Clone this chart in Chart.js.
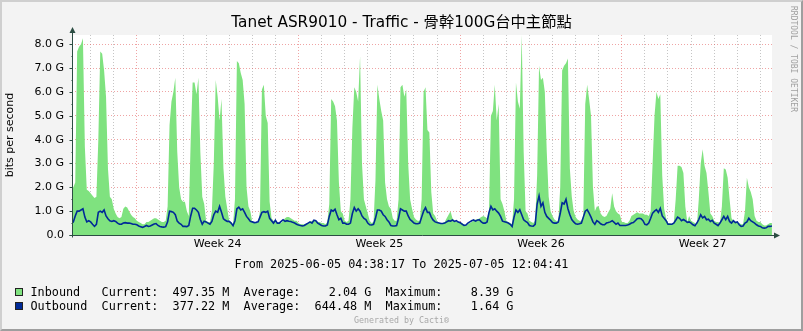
<!DOCTYPE html>
<html><head><meta charset="utf-8">
<script src="https://cdn.jsdelivr.net/npm/chart.js@4/dist/chart.umd.min.js"></script>
<style>
html,body{margin:0;padding:0;background:#F3F3F3;}
#wrap{position:relative;width:803px;height:331px;overflow:hidden;background:#F3F3F3;}
#c{position:absolute;left:0;top:0;}
.frame{position:absolute;left:0;top:0;width:803px;height:331px;box-sizing:border-box;border-top:2px solid #CFCFCF;border-left:2px solid #CFCFCF;border-right:2px solid #9E9E9E;border-bottom:2px solid #9E9E9E;pointer-events:none;}
.mono{position:absolute;font-family:'DejaVu Sans Mono',monospace;font-size:11.8px;line-height:14px;white-space:pre;color:#000;}
.sw{position:absolute;width:6px;height:6px;border:1px solid #222;}
#from{left:0;width:803px;text-align:center;top:257px;}
#gen{position:absolute;left:0;width:803px;text-align:center;top:315px;font-family:'DejaVu Sans Mono',monospace;font-size:8.3px;line-height:10px;color:#A8A8A8;white-space:pre;}
#rrd{position:absolute;left:788px;top:6px;writing-mode:vertical-rl;font-family:'DejaVu Sans Mono',monospace;font-size:8px;line-height:10px;color:#A0A0A0;white-space:pre;}
</style></head>
<body>
<div id="wrap">
<canvas id="c" width="803" height="331"></canvas>
<div id="rrd">RRDTOOL / TOBI OETIKER</div>
<div class="mono" id="from"></div>
<div id="legend"></div>
<div id="gen">Generated by Cacti®</div>
<div class="frame"></div>
</div>
<script>
// ---- data (G bits per second), 2-hour samples starting 2025-06-05 04:00 ----
const chartTitle = 'Tanet ASR9010 - Traffic - 骨幹100G台中主節點';
const yAxisTitle = 'bits per second';
const startHour = 4;      // hours after 2025-06-05 00:00 of first sample
const stepHours = 2;
const rangeStartHour = 4.6381;   // 04:38:17
const rangeEndHour = 732.078;    // 2025-07-05 12:04:41
const yMax = 8.39;

const inbound = [
  1.9, 2.0, 2.2, 7.7, 7.9, 8.0, 8.25, 3.7, 1.9, 1.85,
  1.75, 1.65, 1.55, 1.6, 4.0, 7.7, 7.6, 6.9, 5.8, 2.8, 1.6, 1.5,
  1.1, 0.9, 0.75, 0.7, 0.75, 1.1, 1.2, 1.15, 1.0, 0.85, 0.75, 0.7,
  0.6, 0.55, 0.5, 0.45, 0.45, 0.55, 0.55, 0.6, 0.65, 0.7, 0.7, 0.65,
  0.6, 0.55, 0.55, 0.6, 1.2, 4.6, 5.6, 6.0, 6.6, 3.5, 2.0, 1.5,
  1.4, 1.4, 1.0, 0.8, 4.0, 6.4, 6.4, 5.9, 6.6, 3.5, 1.6, 1.3,
  0.6, 0.55, 0.55, 1.0, 3.0, 6.5, 5.8, 4.8, 5.7, 2.8, 1.6, 1.1,
  0.6, 0.55, 0.45, 1.5, 7.3, 7.2, 6.8, 6.5, 5.5, 2.0, 1.2, 1.0,
  0.55, 0.5, 0.5, 0.5, 1.0, 6.1, 6.3, 5.0, 4.7, 1.4, 0.7, 0.6,
  0.55, 0.55, 0.5, 0.5, 0.6, 0.7, 0.75, 0.75, 0.7, 0.65, 0.6, 0.6,
  0.5, 0.45, 0.45, 0.45, 0.45, 0.5, 0.55, 0.6, 0.6, 0.6, 0.55, 0.55,
  0.5, 0.5, 0.45, 0.55, 1.3, 5.7, 5.6, 5.4, 4.8, 2.2, 1.0, 0.9,
  0.6, 0.55, 0.6, 1.5, 4.5, 6.2, 6.0, 5.6, 7.5, 3.0, 1.5, 1.2,
  0.9, 0.6, 0.5, 0.55, 2.3, 6.3, 5.7, 5.2, 4.8, 2.2, 1.5, 1.2,
  1.1, 0.7, 0.6, 0.6, 1.5, 6.2, 6.3, 5.8, 6.1, 3.0, 1.5, 1.1,
  0.75, 0.65, 0.6, 0.6, 1.5, 6.0, 6.2, 4.4, 4.3, 1.8, 0.9, 0.8,
  0.6, 0.5, 0.5, 0.5, 0.55, 0.7, 0.85, 1.0, 0.7, 0.6, 0.55, 0.55,
  0.5, 0.5, 0.45, 0.4, 0.45, 0.5, 0.55, 0.6, 0.65, 0.65, 0.7, 0.75,
  0.8, 0.75, 0.7, 1.0, 5.0, 5.2, 6.3, 4.8, 5.5, 1.5, 1.3, 1.0,
  0.6, 0.55, 0.5, 0.45, 1.5, 6.4, 5.6, 5.3, 8.39, 3.5, 1.0, 0.9,
  0.6, 0.55, 0.5, 0.6, 2.5, 7.1, 6.5, 6.6, 6.0, 3.5, 1.6, 1.0,
  0.8, 0.65, 0.6, 0.55, 2.0, 6.9, 7.1, 7.2, 7.4, 2.8, 1.6, 1.0,
  0.75, 0.65, 0.6, 0.6, 0.8, 5.5, 6.3, 5.7, 5.0, 2.0, 1.0, 1.2,
  1.2, 0.9, 0.8, 0.75, 0.8, 0.95, 1.1, 1.75, 1.2, 1.0, 0.9, 0.85,
  0.55, 0.55, 0.5, 0.5, 0.6, 0.8, 0.85, 0.9, 0.95, 0.9, 0.9, 0.9,
  0.85, 0.85, 0.8, 1.0, 3.0, 5.0, 6.0, 5.7, 5.9, 2.5, 1.1, 0.7,
  0.5, 0.5, 0.45, 0.5, 1.5, 2.9, 2.9, 2.85, 2.6, 1.2, 0.55, 0.8,
  0.6, 0.55, 0.5, 0.4, 1.5, 3.0, 3.6, 2.9, 2.6, 1.8, 0.9, 0.8,
  0.6, 0.55, 0.55, 0.5, 1.2, 2.8, 2.75, 2.4, 1.5, 0.7, 0.6, 0.55,
  0.5, 0.5, 0.45, 0.45, 1.0, 2.4, 2.0, 1.8, 1.5, 0.8, 0.6, 0.55,
  0.55, 0.45, 0.4, 0.4, 0.45, 0.5, 0.5
];

const outbound = [
  0.5, 0.55, 0.8, 1.0, 1.0, 1.05, 1.1, 0.75, 0.55, 0.6,
  0.55, 0.45, 0.36, 0.45, 0.95, 1.0, 0.95, 1.05, 0.8, 0.68, 0.6, 0.57,
  0.6, 0.57, 0.5, 0.45, 0.45, 0.5, 0.52, 0.5, 0.5, 0.48, 0.45, 0.45,
  0.43, 0.38, 0.35, 0.32, 0.36, 0.4, 0.36, 0.38, 0.42, 0.46, 0.48, 0.4,
  0.36, 0.34, 0.33, 0.35, 0.55, 1.0, 0.98, 0.95, 0.85, 0.58, 0.5, 0.45,
  0.36, 0.36, 0.35, 0.4, 0.8, 1.12, 1.12, 1.05, 0.95, 0.65, 0.45, 0.58,
  0.55, 0.5, 0.45, 0.57, 0.85, 1.0, 0.95, 1.2, 0.95, 0.68, 0.62, 0.57,
  0.57, 0.5, 0.39, 0.6, 1.1, 1.17, 1.05, 1.1, 0.95, 0.78, 0.68, 0.57,
  0.55, 0.52, 0.53, 0.55, 0.75, 0.95, 0.98, 0.95, 1.0, 0.7, 0.6, 0.5,
  0.62, 0.5, 0.5, 0.57, 0.64, 0.57, 0.6, 0.58, 0.57, 0.53, 0.5, 0.45,
  0.42, 0.4, 0.38, 0.4, 0.45, 0.5, 0.55, 0.5, 0.62, 0.6, 0.5, 0.45,
  0.4, 0.38, 0.38, 0.42, 0.78, 1.05, 1.0, 1.08, 0.85, 0.64, 0.7, 0.5,
  0.5, 0.45, 0.45, 0.5, 0.9, 1.15, 1.0, 1.1, 1.0, 0.8, 0.7, 0.65,
  0.5, 0.43, 0.42, 0.45, 0.7, 1.05, 1.05, 1.0, 0.85, 0.78, 0.64, 0.55,
  0.4, 0.38, 0.38, 0.4, 0.7, 1.1, 1.05, 1.0, 1.0, 0.8, 0.65, 0.58,
  0.5, 0.47, 0.47, 0.5, 0.75, 1.0, 1.15, 0.95, 0.95, 0.75, 0.62, 0.55,
  0.52, 0.5, 0.48, 0.48, 0.5, 0.55, 0.6, 0.58, 0.63, 0.57, 0.6, 0.54,
  0.52, 0.46, 0.4, 0.42, 0.5, 0.55, 0.6, 0.63, 0.58, 0.63, 0.64, 0.55,
  0.5, 0.5, 0.55, 0.95, 1.2, 1.05, 1.1, 1.0, 0.92, 0.78, 0.58, 0.56,
  0.53, 0.5, 0.45, 0.36, 0.75, 1.05, 0.95, 1.06, 0.85, 0.64, 0.57, 0.52,
  0.4, 0.38, 0.37, 0.45, 1.3, 1.64, 1.2, 1.35, 0.95, 0.78, 0.7, 0.62,
  0.52, 0.5, 0.5, 0.55, 0.9, 1.35, 1.3, 1.5, 1.1, 0.85, 0.65, 0.55,
  0.47, 0.45, 0.47, 0.5, 0.75, 1.0, 1.06, 0.92, 0.75, 0.55, 0.45, 0.6,
  0.55, 0.47, 0.43, 0.43, 0.5, 0.52, 0.55, 0.6, 0.53, 0.45, 0.5, 0.4,
  0.4, 0.4, 0.4, 0.42, 0.45, 0.5, 0.52, 0.6, 0.68, 0.7, 0.68, 0.6,
  0.45, 0.43, 0.5, 0.7, 0.92, 1.0, 1.06, 0.95, 1.12, 0.8, 0.7, 0.6,
  0.45, 0.45, 0.45, 0.5, 0.62, 0.75, 0.7, 0.6, 0.65, 0.6, 0.53, 0.55,
  0.5, 0.43, 0.39, 0.5, 0.65, 0.85, 0.72, 0.78, 0.64, 0.66, 0.57, 0.62,
  0.5, 0.45, 0.39, 0.5, 0.64, 0.78, 0.64, 0.78, 0.57, 0.5, 0.6, 0.52,
  0.55, 0.43, 0.36, 0.38, 0.5, 0.55, 0.7, 0.6, 0.55, 0.5, 0.43, 0.38,
  0.36, 0.3, 0.29, 0.3, 0.36, 0.36, 0.38
];

const yTickLabels = ['0.0','1.0 G','2.0 G','3.0 G','4.0 G','5.0 G','6.0 G','7.0 G','8.0 G'];
const weekLabels = ['Week 24','Week 25','Week 26','Week 27'];
const weekLabelHours = [156, 324, 492, 660];
const weekStartHours = [72, 240, 408, 576];
const fromText = 'From 2025-06-05 04:38:17 To 2025-07-05 12:04:41';
const legendNames = ['Inbound', 'Outbound'];
const legendCurrent = ['497.35 M', '377.22 M'];
const legendAverage = ['2.04 G', '644.48 M'];
const legendMaximum = ['8.39 G', '1.64 G'];
const seriesColors = ['#7FE27F', '#002A97'];

// ---- text blocks ----
document.getElementById('from').textContent = fromText;
const lg = document.getElementById('legend');
legendNames.forEach((n, i) => {
  const top = 285 + i * 14;
  const sw = document.createElement('div');
  sw.className = 'sw';
  sw.style.left = '15px'; sw.style.top = (top + 3) + 'px';
  sw.style.background = seriesColors[i];
  lg.appendChild(sw);
  const t = document.createElement('div');
  t.className = 'mono';
  t.style.left = '30.5px'; t.style.top = top + 'px';
  t.textContent = n.padEnd(10) + 'Current:  ' + legendCurrent[i].padStart(8) + '  Average:  ' +
    legendAverage[i].padStart(8) + '  Maximum:  ' + legendMaximum[i].padStart(8);
  lg.appendChild(t);
});

// ---- chart ----
const inData = inbound.map((v, i) => ({x: startHour + i * stepHours, y: v}));
const outData = outbound.map((v, i) => ({x: startHour + i * stepHours, y: v}));

const GRID = 'rgba(140,140,140,0.5)';
const MGRID = 'rgba(225,90,90,0.55)';
const AXIS = '#2C4D43';
const FONT = "'DejaVu Sans', 'Noto Sans CJK TC', sans-serif";

const framePlugin = {
  id: 'frame',
  beforeDraw(chart) {
    const {ctx, chartArea: a} = chart;
    ctx.save();
    ctx.fillStyle = '#FFFFFF';
    ctx.fillRect(a.left, a.top, a.right - a.left, a.bottom - a.top);
    ctx.restore();
  },
  afterDraw(chart) {
    const {ctx} = chart;
    ctx.save();
    ctx.font = "15.3px " + FONT;
    ctx.fillStyle = '#000';
    ctx.textAlign = 'center';
    ctx.textBaseline = 'middle';
    ctx.fillText(chartTitle, 401.5, 23.5);
    ctx.restore();
  },
  afterDatasetsDraw(chart) {
    const {ctx, chartArea: a, scales} = chart;
    ctx.save();
    ctx.strokeStyle = AXIS; ctx.fillStyle = AXIS; ctx.lineWidth = 1;
    const x0 = Math.round(a.left) + 0.5, y0 = Math.round(a.bottom) + 0.5;
    ctx.beginPath();
    ctx.moveTo(x0, y0 + 2); ctx.lineTo(x0, a.top - 4);
    ctx.moveTo(x0 - 3, y0); ctx.lineTo(a.right + 4, y0);
    for (let v = 0; v <= 8; v += 0.5) {
      const y = Math.round(scales.y.getPixelForValue(v)) + 0.5;
      ctx.moveTo(x0 - (v % 1 === 0 ? 3 : 1), y); ctx.lineTo(x0, y);
    }
    ctx.stroke();
    ctx.beginPath();
    ctx.moveTo(x0, a.top - 8); ctx.lineTo(x0 - 3, a.top - 2); ctx.lineTo(x0 + 3, a.top - 2); ctx.closePath();
    ctx.fill();
    ctx.beginPath();
    ctx.moveTo(a.right + 8, y0); ctx.lineTo(a.right + 2, y0 - 3); ctx.lineTo(a.right + 2, y0 + 3); ctx.closePath();
    ctx.fill();
    ctx.restore();
  }
};

new Chart(document.getElementById('c'), {
  type: 'line',
  data: {
    datasets: [
      {label: legendNames[1], data: outData, borderColor: seriesColors[1], borderWidth: 1.6,
       pointRadius: 0, fill: false, tension: 0, order: 0},
      {label: legendNames[0], data: inData, borderColor: 'rgba(0,0,0,0)', borderWidth: 0,
       backgroundColor: seriesColors[0], pointRadius: 0, fill: 'origin', tension: 0, order: 1}
    ]
  },
  options: {
    responsive: false, animation: false, devicePixelRatio: 1,
    layout: {padding: {left: 0, right: 31, top: 35, bottom: 0}},
    plugins: {
      legend: {display: false}, tooltip: {enabled: false}, title: {display: false}
    },
    scales: {
      x: {
        type: 'linear', min: rangeStartHour, max: rangeEndHour,
        afterFit(s) { s.height = 96; },
        afterBuildTicks(s) {
          const t = [];
          for (let h = 24; h < rangeEndHour; h += 24) t.push({value: h});
          weekLabelHours.forEach(h => t.push({value: h}));
          t.sort((a, b) => a.value - b.value);
          s.ticks = t;
        },
        ticks: {
          autoSkip: false, maxRotation: 0, minRotation: 0, padding: 3, color: '#000',
          font: {family: FONT, size: 11},
          callback(v) { const i = weekLabelHours.indexOf(v); return i >= 0 ? weekLabels[i] : ''; }
        },
        grid: {
          drawTicks: false, lineWidth: 1,
          color(ctx) {
            const v = ctx.tick ? ctx.tick.value : 0;
            if (v % 24 !== 0) return 'rgba(0,0,0,0)';
            return weekStartHours.includes(v) ? MGRID : GRID;
          }
        },
        border: {display: false, dash: [1, 2]}
      },
      y: {
        min: 0, max: yMax,
        afterFit(s) { s.width = 72; },
        afterBuildTicks(s) {
          const t = [];
          for (let v = 0; v <= 8; v += 0.5) t.push({value: v});
          s.ticks = t;
        },
        ticks: {
          padding: 8, color: '#000', font: {family: FONT, size: 11},
          callback(v) { return v % 1 === 0 ? yTickLabels[v] : ''; }
        },
        grid: {
          drawTicks: false, lineWidth: 1,
          color(ctx) {
            const v = ctx.tick ? ctx.tick.value : 0;
            if (v === 0) return 'rgba(0,0,0,0)';
            return v % 1 === 0 ? MGRID : GRID;
          }
        },
        border: {display: false, dash: [1, 2]},
        title: {display: true, text: yAxisTitle, color: '#000',
          font: {family: FONT, size: 11}, padding: {top: 4, bottom: 0}}
      }
    }
  },
  plugins: [framePlugin]
});
</script>
</body></html>
